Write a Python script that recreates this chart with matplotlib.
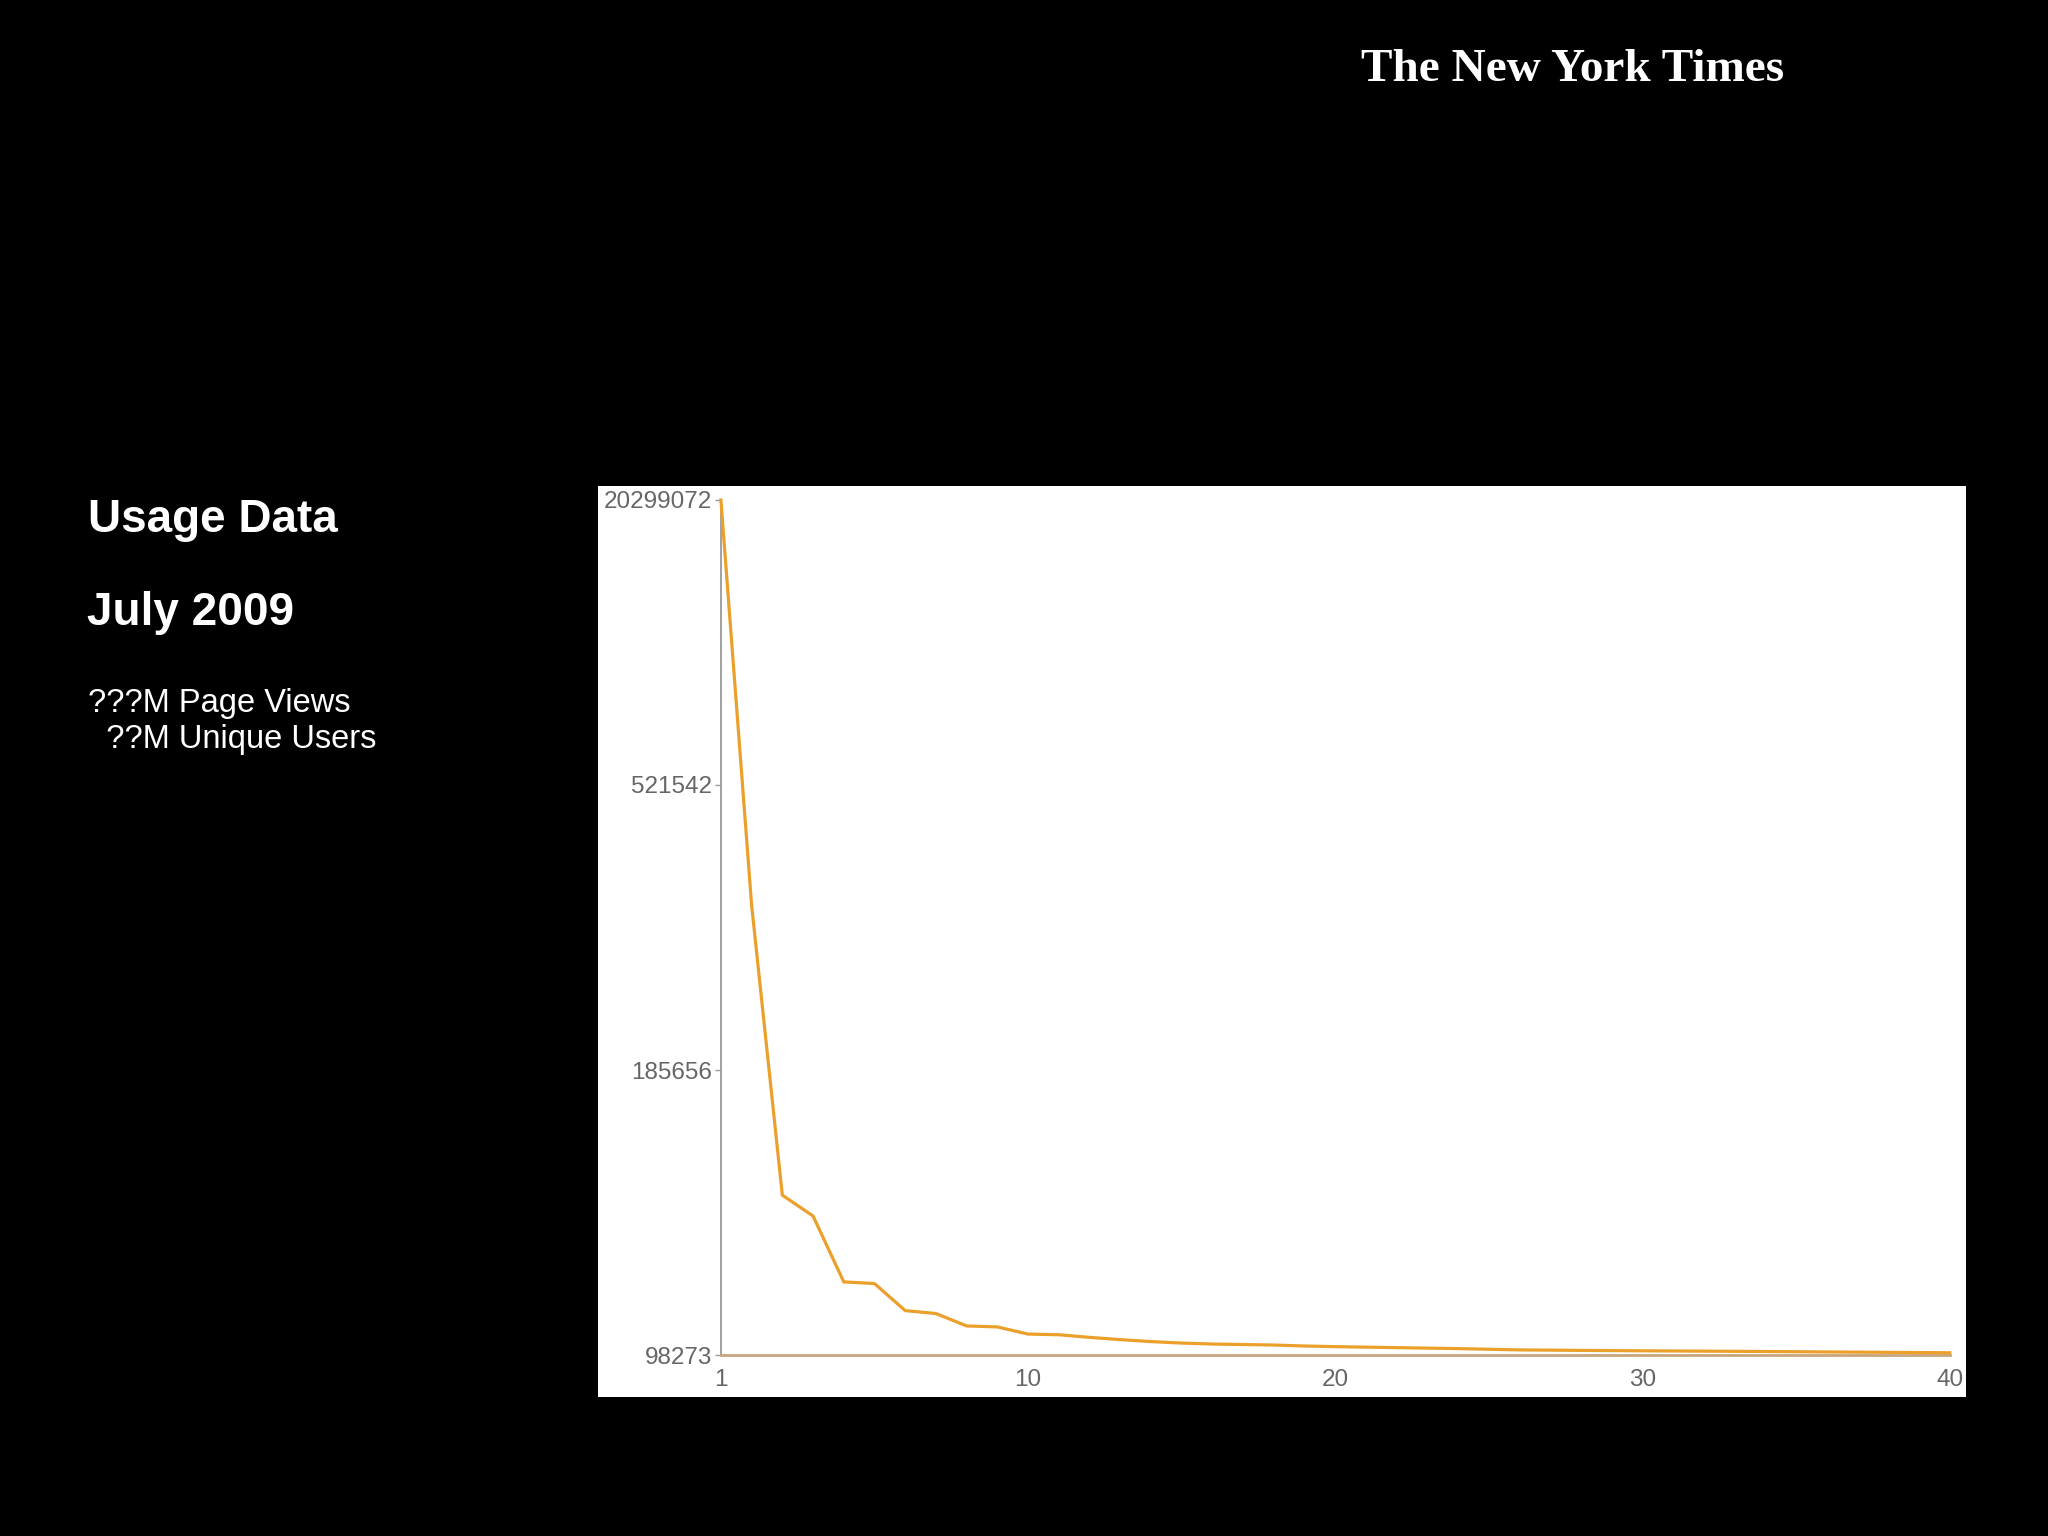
import numpy as np
import matplotlib
matplotlib.use("Agg")
import matplotlib.pyplot as plt
from matplotlib.patches import Rectangle

# ---- data ----
rank_positions = list(range(0, 41))
page_views = [20299072, 380000, 147300, 140900, 120700, 120200, 111900, 111000,
              107200, 106900, 104700, 104500, 103700, 103000, 102400, 101950,
              101650, 101500, 101350, 101050, 100850, 100700, 100550, 100400,
              100250, 100050, 99850, 99780, 99700, 99640, 99580, 99520, 99470,
              99420, 99360, 99300, 99230, 99170, 99100, 99040, 98980]
ytick_values = [98273, 185656, 521542, 20299072]
xtick_positions = [0, 10, 20, 30, 40]
xtick_labels = ["1", "10", "20", "30", "40"]

title1 = "Usage Data"
title2 = "July 2009"
stat_lines = ["???M Page Views", "  ??M Unique Users"]
masthead = "The New York Times"

# ---- figure ----
fig = plt.figure(figsize=(20.48, 15.36), dpi=100, facecolor="black")

# white panel behind the chart
fig.patches.append(Rectangle((0.292, 0.0905), 0.668, 0.593, transform=fig.transFigure,
                             facecolor="white", edgecolor="none", zorder=-10))

ax = fig.add_axes([0.352, 0.1178, 0.600, 0.5567])
ax.set_facecolor("white")

tick_pos = np.arange(len(ytick_values), dtype=float)
tv = np.array(ytick_values, dtype=float)

def fwd(v):
    return np.interp(v, tv, tick_pos)

def inv(p):
    return np.interp(p, tick_pos, tv)

ax.set_yscale("function", functions=(fwd, inv))
ax.plot(rank_positions, page_views, color="#eba02c", lw=2.3, solid_joinstyle="miter",
        zorder=3, clip_on=False)

ax.set_xlim(0, 40)
ax.set_ylim(ytick_values[0], ytick_values[-1])

ax.set_yticks(ytick_values)
ax.set_yticklabels([str(v) for v in ytick_values])
ax.yaxis.set_minor_locator(matplotlib.ticker.NullLocator())
ax.set_xticks(xtick_positions)
ax.set_xticklabels(xtick_labels)

for s in ["top", "right"]:
    ax.spines[s].set_visible(False)
ax.spines["left"].set_color("#9a9a9a")
ax.spines["left"].set_linewidth(1.3)
ax.spines["bottom"].set_color("#c8a57c")
ax.spines["bottom"].set_linewidth(2.0)

ax.tick_params(axis="y", length=4.5, width=1, color="#9a9a9a", pad=2,
               labelsize=17.5, labelcolor="#666666")
ax.tick_params(axis="x", length=0, pad=10, labelsize=17.5, labelcolor="#666666")
for lab in ax.get_xticklabels() + ax.get_yticklabels():
    lab.set_fontfamily("Liberation Sans")

# left-hand text
fig.text(88 / 2048, 1 - 532 / 1536, title1, color="white", fontsize=33, fontweight="bold",
         family="Liberation Sans", ha="left", va="baseline")
fig.text(87 / 2048, 1 - 625 / 1536, title2, color="white", fontsize=33, fontweight="bold",
         family="Liberation Sans", ha="left", va="baseline")
fig.text(88 / 2048, 1 - 712 / 1536, stat_lines[0], color="white", fontsize=23.5,
         family="Liberation Sans", ha="left", va="baseline")
fig.text(88 / 2048, 1 - 748 / 1536, stat_lines[1], color="white", fontsize=23.5,
         family="Liberation Sans", ha="left", va="baseline")

# masthead
fig.text(1573 / 2048, 1 - 70 / 1536, masthead, color="white", fontsize=34, fontweight="bold",
         family="Liberation Serif", ha="center", va="center")

fig.savefig("out.png", dpi=100, facecolor="black")
